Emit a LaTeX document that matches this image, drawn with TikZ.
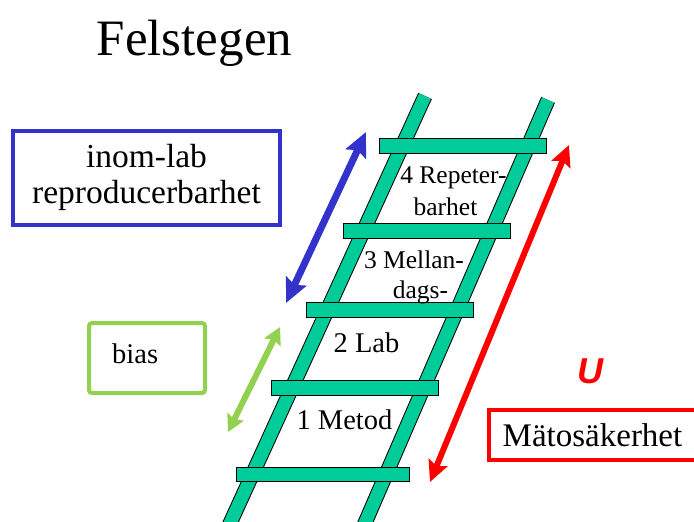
\documentclass[tikz,border=0pt]{standalone}
\usepackage{fontspec}
\setmainfont{Liberation Serif}
\newfontfamily\usans{Liberation Sans}
\usetikzlibrary{arrows.meta,calc}
\definecolor{ladder}{HTML}{00CC99}
\definecolor{bluea}{HTML}{3333CC}
\definecolor{greena}{HTML}{92D050}
\definecolor{reda}{HTML}{FF0000}
\tikzset{
  railback/.style={line width=15pt, draw=black},
  railfront/.style={line width=13pt, draw=ladder},
  rungbox/.style={draw=black, line width=0.8pt, fill=ladder, minimum width=167pt, minimum height=15pt, inner sep=0pt},
  smalllab/.style={font=\fontsize{25.5}{28}\selectfont, anchor=base, inner sep=0pt},
  biglab/.style={font=\fontsize{28.5}{30}\selectfont, anchor=base, inner sep=0pt},
  boxlab/.style={line width=4pt, inner sep=0pt, align=center},
}
\begin{document}
\begin{tikzpicture}[x=1pt,y=-1pt]
\useasboundingbox (0,0) rectangle (694,522);
\clip (0,0) rectangle (694,522);
% title
\node[font=\fontsize{51}{51}\selectfont, anchor=base, inner sep=0pt] (title) at (194.5,55) {Felstegen};
% rails
\coordinate (lt) at (425,96);
\coordinate (lb) at (227,530);
\coordinate (rt) at (548,100);
\coordinate (rb) at (362,530);
\draw[railback] (lt) -- (lb);
\draw[railfront] (lt) -- (lb);
\draw[railback] (rt) -- (rb);
\draw[railfront] (rt) -- (rb);
% rungs
\node[rungbox] (r4) at (462.5,145.5) {};
\node[rungbox] (r3) at (426.5,231) {};
\node[rungbox] (r2) at (390,309.5) {};
\node[rungbox] (r1) at (354.5,388) {};
\node[rungbox, minimum width=173pt, minimum height=14pt] (r0) at (322.5,474) {};
% ladder texts
\node[smalllab] (t4a) at (453.5,183) {4 Repeter-};
\node[smalllab] (t4b) at (445.5,215) {barhet};
\node[smalllab] (t3a) at (414,268) {3 Mellan-};
\node[smalllab] (t3b) at (420.5,298) {dags-};
\node[biglab] (t2) at (366.5,352) {2 Lab};
\node[biglab] (t1) at (344.5,429) {1 Metod};
% boxes
\node[boxlab, draw=bluea, minimum width=267pt, minimum height=94pt,
      font=\fontsize{33.5}{37}\selectfont] (inom) at (146.5,178)
      {\raisebox{3pt}{\begin{tabular}{@{}c@{}}inom-lab\\[-0.5pt]reproducerbarhet\end{tabular}}};
\node[boxlab, draw=greena, rounded corners=3pt, minimum width=116pt, minimum height=70pt] (biasbox) at (147,358) {};
\node[font=\fontsize{28.5}{30}\selectfont, anchor=base west, inner sep=0pt] (bias) at (112,363) {bias};
\node[boxlab, draw=reda, minimum width=207pt, minimum height=50pt,
      font=\fontsize{33}{36}\selectfont] (mato) at (592.5,435) {Mätosäkerhet};
\node[font=\usans\bfseries\itshape\fontsize{36}{36}\selectfont, text=reda, anchor=base, inner sep=0pt] (U) at (590,383) {U};
% arrows
\coordinate (ba) at (366,132);
\coordinate (bb) at (286,303);
\coordinate (ga) at (280,327);
\coordinate (gb) at (228,432);
\coordinate (ra) at (569,145);
\coordinate (rb2) at (430,482);
\draw[bluea, line width=7pt, {Stealth[length=24pt,width=22pt,inset=4pt]}-{Stealth[length=24pt,width=22pt,inset=4pt]}] (bb) -- (ba);
\draw[greena, line width=6pt, {Stealth[length=17pt,width=18pt,inset=3pt]}-{Stealth[length=17pt,width=18pt,inset=3pt]}] (gb) -- (ga);
\draw[reda, line width=6pt, {Stealth[length=21pt,width=20pt,inset=4pt]}-{Stealth[length=21pt,width=20pt,inset=4pt]}] (rb2) -- (ra);
\end{tikzpicture}
\end{document}
